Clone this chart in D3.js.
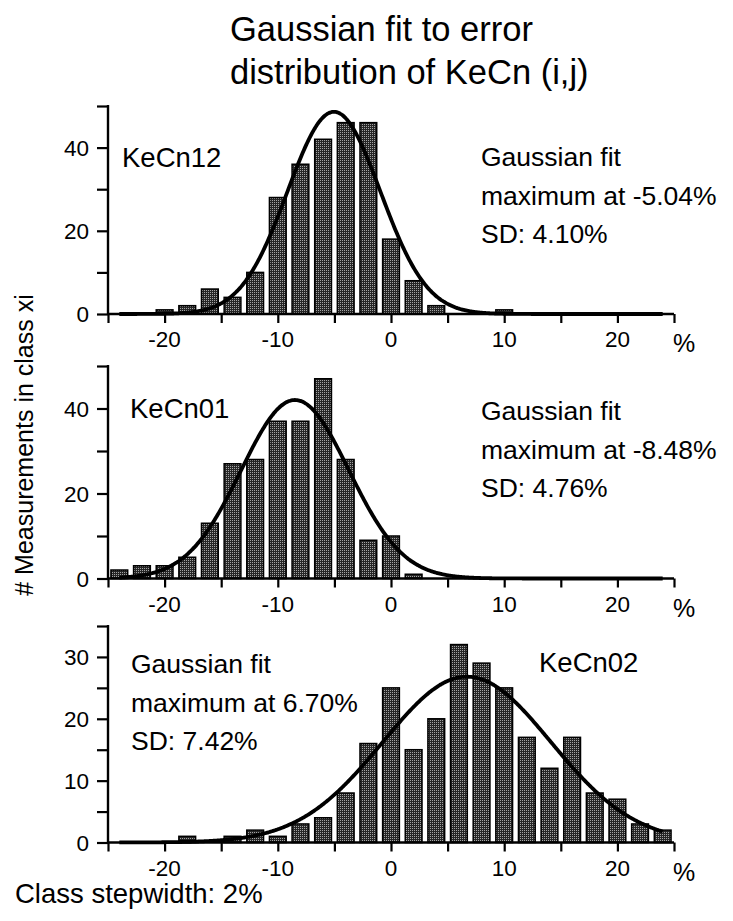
<!DOCTYPE html>
<html><head><meta charset="utf-8">
<script src="https://cdn.jsdelivr.net/npm/d3@7/dist/d3.min.js"></script>
<style>body{margin:0;background:#fff}svg text{font-family:"Liberation Sans",Arial,sans-serif;fill:#000}</style>
</head><body><svg id="c" width="733" height="921"></svg>
<script>
// ---- data ----
const title = ["Gaussian fit to error", "distribution of KeCn (i,j)"];
const yAxisLabel = "# Measurements in class xi";
const footnote = "Class stepwidth: 2%";
const xTickLabels = [-20, -10, 0, 10, 20];
const unitLabel = "%";

const names = ["KeCn12", "KeCn01", "KeCn02"];
const centers12 = [-20, -18, -16, -14, -12, -10, -8, -6, -4, -2, 0, 2, 4, 10];
const counts12  = [1, 2, 6, 4, 10, 28, 36, 42, 46, 46, 18, 8, 2, 1];
const centers01 = [-24, -22, -20, -18, -16, -14, -12, -10, -8, -6, -4, -2, 0, 2];
const counts01  = [2, 3, 3, 5, 13, 27, 28, 37, 37, 47, 28, 9, 10, 1];
const centers02 = [-18, -14, -12, -10, -8, -6, -4, -2, 0, 2, 4, 6, 8, 10, 12, 14, 16, 18, 20, 22, 24];
const counts02  = [1, 1, 2, 1, 3, 4, 8, 16, 25, 15, 20, 32, 29, 25, 17, 12, 17, 8, 7, 3, 2];
// Gaussian fit parameters: maximum position, SD, peak height
const fitMax = [-5.04, -8.48, 6.70];
const fitSD = [4.10, 4.76, 7.42];
const fitPeak = [48.6, 42.0, 26.8];
const yTickLabels12 = [0, 20, 40];
const yTickLabels01 = [0, 20, 40];
const yTickLabels02 = [0, 10, 20, 30];

// ---- layout ----
const svg = d3.select("#c");
const x = d3.scaleLinear().domain([-25, 25]).range([108, 674]);
const panels = [
  {centers: centers12, counts: counts12, yMax: 50, yStep: 10, yLabels: yTickLabels12, y0: 314, yTop: 106,
   name: names[0], nameXY: [122, 167], fitXY: [481, 166]},
  {centers: centers01, counts: counts01, yMax: 50, yStep: 10, yLabels: yTickLabels01, y0: 578.5, yTop: 366,
   name: names[1], nameXY: [130, 418], fitXY: [481, 420]},
  {centers: centers02, counts: counts02, yMax: 35, yStep: 5, yLabels: yTickLabels02, y0: 842.5, yTop: 626,
   name: names[2], nameXY: [539, 672], fitXY: [131, 673]}
];

// pattern for the bars
const defs = svg.append("defs");
const pat = defs.append("pattern").attr("id", "dots").attr("patternUnits", "userSpaceOnUse")
  .attr("width", 2).attr("height", 2);
pat.append("rect").attr("width", 2).attr("height", 2).attr("fill", "#262626");
pat.append("rect").attr("width", 1).attr("height", 1).attr("fill", "#a4a4a4");

const fmt = v => (v < 0 ? "-" : "") + Math.abs(v).toFixed(2) + "%";

panels.forEach((p, i) => {
  const y = d3.scaleLinear().domain([0, p.yMax]).range([p.y0, p.yTop]);
  const g = svg.append("g");
  const halfW = 0.74;
  const data = p.centers.map((c, k) => ({c, v: p.counts[k]}));
  g.selectAll("rect.bar").data(data).join("rect").attr("class", "bar")
    .attr("x", d => x(d.c - halfW)).attr("width", d => x(d.c + halfW) - x(d.c - halfW))
    .attr("y", d => y(d.v)).attr("height", d => y(0) - y(d.v))
    .attr("fill", "url(#dots)").attr("stroke", "#000").attr("stroke-width", 1.5);

  // gaussian fit curve
  const mu = fitMax[i], sd = fitSD[i], A = fitPeak[i];
  const xs = d3.range(-24, 24.001, 0.1);
  const line = d3.line().x(d => x(d)).y(d => y(A * Math.exp(-((d - mu) ** 2) / (2 * sd * sd)))).curve(d3.curveBasis);
  g.append("path").datum(xs).attr("d", line).attr("fill", "none").attr("stroke", "#000").attr("stroke-width", 3.8);

  // x axis
  const xa = d3.axisBottom(x).tickValues(d3.range(-25, 26, 5)).tickSize(9).tickFormat(() => "");
  const gx = g.append("g").attr("transform", `translate(0,${p.y0})`).call(xa);
  gx.select(".domain").attr("stroke-width", 2.4).attr("d", `M${x(-25)},0H${x(25)}`);
  gx.selectAll(".tick line").attr("stroke-width", 2.2);
  g.selectAll("text.xl").data(xTickLabels).join("text").attr("class", "xl")
    .attr("x", d => x(d)).attr("y", p.y0 + 33).attr("text-anchor", "middle")
    .attr("font-size", 22.5).text(d => d);
  g.append("text").attr("x", x(25) + 10).attr("y", p.y0 + 38).attr("text-anchor", "middle")
    .attr("font-size", 25).text(unitLabel);

  // y axis
  const ya = d3.axisLeft(y).tickValues(d3.range(0, p.yMax + 0.1, p.yStep)).tickSize(11).tickFormat(() => "");
  const gy = g.append("g").attr("transform", `translate(${x(-25)},0)`).call(ya);
  gy.select(".domain").attr("stroke-width", 2.4).attr("d", `M0,${y(0)}V${y(p.yMax) - 1}`);
  gy.selectAll(".tick line").attr("stroke-width", 2.2);
  g.selectAll("text.yl").data(p.yLabels).join("text").attr("class", "yl")
    .attr("x", x(-25) - 19).attr("y", d => y(d)).attr("dy", "0.36em").attr("text-anchor", "end")
    .attr("font-size", 22.5).text(d => d);

  // annotations
  g.append("text").attr("x", p.nameXY[0]).attr("y", p.nameXY[1]).attr("font-size", 27.5).text(p.name);
  const lines = ["Gaussian fit", "maximum at " + fmt(fitMax[i]), "SD: " + fitSD[i].toFixed(2) + "%"];
  g.selectAll("text.fit").data(lines).join("text").attr("class", "fit")
    .attr("x", p.fitXY[0]).attr("y", (d, k) => p.fitXY[1] + k * 38.5).attr("font-size", 26.5).text(d => d);
});

// title
svg.selectAll("text.title").data(title).join("text").attr("class", "title")
  .attr("x", 230).attr("y", (d, k) => 41 + k * 43).attr("font-size", 34.5).text(d => d);
// y label
svg.append("text").attr("transform", "translate(33,445) rotate(-90)").attr("text-anchor", "middle")
  .attr("font-size", 25).text(yAxisLabel);
// footnote
svg.append("text").attr("x", 15).attr("y", 903).attr("font-size", 27.5).text(footnote);
</script></body></html>
